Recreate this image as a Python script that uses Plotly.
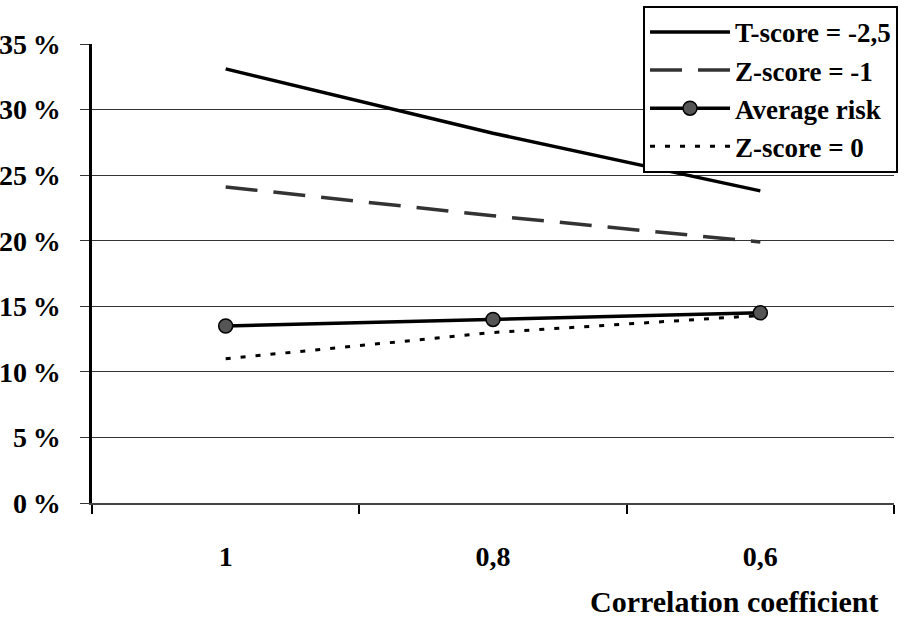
import plotly.graph_objects as go

categories = ["1", "0,8", "0,6"]
t_score = [33.1, 28.2, 23.8]
z_minus1 = [24.1, 21.9, 19.9]
avg_risk = [13.5, 14.0, 14.5]
z_zero = [11.0, 13.0, 14.3]
y_ticks = [0, 5, 10, 15, 20, 25, 30, 35]
y_labels = [f"{v}\u2009%" for v in y_ticks]

FONT = "Liberation Serif"

fig = go.Figure()
fig.add_trace(go.Scatter(x=categories, y=t_score, mode="lines", name="<b>T-score = -2,5</b>",
                         line=dict(color="black", width=3.5)))
fig.add_trace(go.Scatter(x=categories, y=z_minus1, mode="lines", name="<b>Z-score = -1</b>",
                         line=dict(color="#333333", width=3.5, dash="32px,16px")))
fig.add_trace(go.Scatter(x=categories, y=avg_risk, mode="lines+markers", name="<b>Average risk</b>",
                         line=dict(color="black", width=3.5),
                         marker=dict(size=14, color="#555555", line=dict(color="black", width=1.5))))
fig.add_trace(go.Scatter(x=categories, y=z_zero, mode="lines", name="<b>Z-score = 0</b>",
                         line=dict(color="black", width=3, dash="5px,10px")))

fig.update_layout(
    template="none",
    width=904, height=618,
    margin=dict(l=92, r=6, t=43, b=115),
    paper_bgcolor="white", plot_bgcolor="white",
    font=dict(family=FONT, color="black", size=26),
    showlegend=True,
    legend=dict(x=1.005, y=1.083, xanchor="right", yanchor="top",
                bgcolor="white", bordercolor="black", borderwidth=2,
                font=dict(family=FONT, size=27, color="black"),
                tracegroupgap=0, itemwidth=80),
    xaxis=dict(type="category", range=[-0.5, 2.5], tickson="boundaries",
               ticks="outside", ticklen=9, tickcolor="black", tickwidth=1.5,
               showgrid=False, showline=True, linecolor="#444444", linewidth=1.5,
               tickfont=dict(family=FONT, size=28, color="black"),
               ticklabelstandoff=28,
               tickvals=categories, ticktext=[f"<b>{c}</b>" for c in categories]),
    yaxis=dict(range=[0, 35], tickvals=y_ticks, ticktext=[f"<b>{l}</b>" for l in y_labels],
               showgrid=True, gridcolor="#333333", gridwidth=1,
               ticks="outside", ticklen=9, tickcolor="#333333",
               showline=True, linecolor="black", linewidth=2.5,
               zeroline=False,
               tickfont=dict(family=FONT, size=28, color="black"),
               ticklabelstandoff=14),
)

fig.add_annotation(text="<b>Correlation coefficient</b>", xref="paper", yref="paper",
                   x=0.984, y=-0.215, xanchor="right", yanchor="middle", showarrow=False,
                   font=dict(family=FONT, size=30, color="black"))

fig.write_html("out.html")
